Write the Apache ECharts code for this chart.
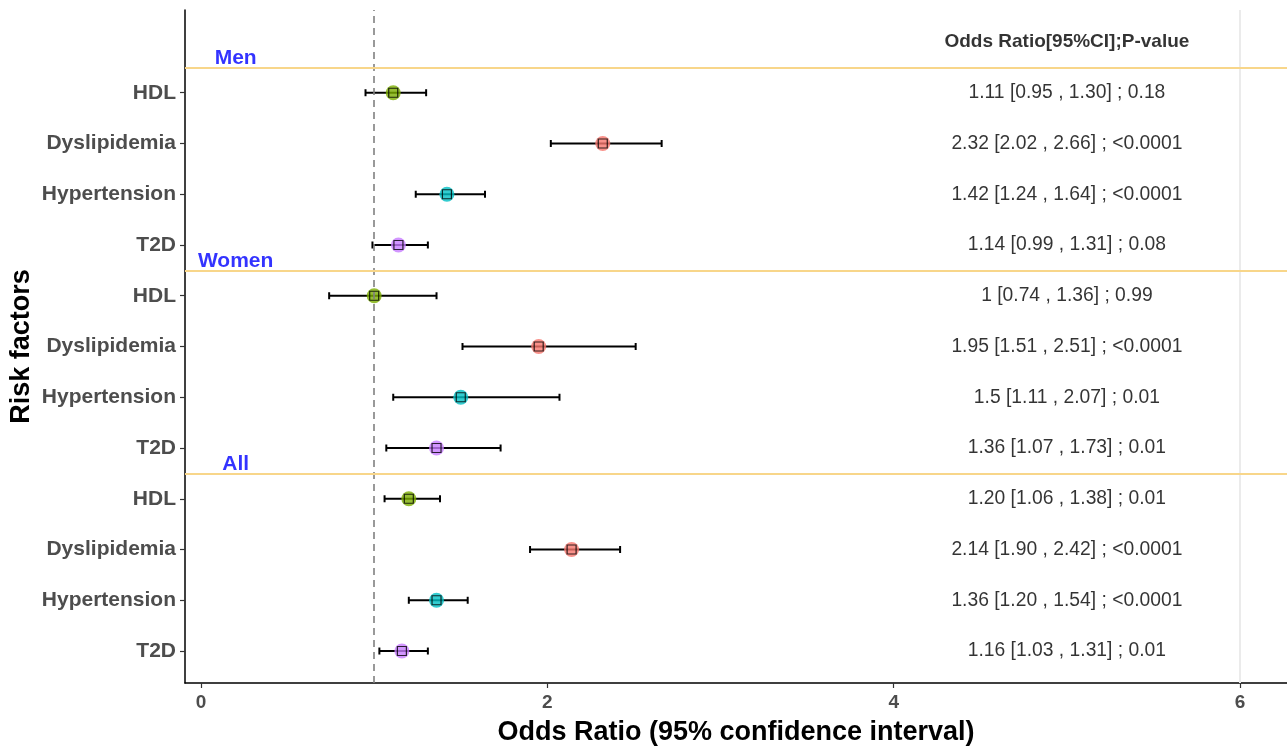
<!DOCTYPE html>
<html>
<head>
<meta charset="utf-8">
<script src="https://cdn.jsdelivr.net/npm/echarts@6/dist/echarts.min.js"></script>
<style>html,body{margin:0;padding:0;background:#fff}#c{width:1287px;height:747px}</style>
</head>
<body>
<div id="c"></div>
<script>
// ---- data ----
var groups = ['Men', 'Women', 'All'];
var factors = ['HDL', 'Dyslipidemia', 'Hypertension', 'T2D'];
var menOR = [1.11, 2.32, 1.42, 1.14];
var menLo = [0.95, 2.02, 1.24, 0.99];
var menHi = [1.30, 2.66, 1.64, 1.31];
var menTxt = ['1.11 [0.95 , 1.30] ; 0.18', '2.32 [2.02 , 2.66] ; <0.0001', '1.42 [1.24 , 1.64] ; <0.0001', '1.14 [0.99 , 1.31] ; 0.08'];
var womenOR = [1, 1.95, 1.5, 1.36];
var womenLo = [0.74, 1.51, 1.11, 1.07];
var womenHi = [1.36, 2.51, 2.07, 1.73];
var womenTxt = ['1 [0.74 , 1.36] ; 0.99', '1.95 [1.51 , 2.51] ; <0.0001', '1.5 [1.11 , 2.07] ; 0.01', '1.36 [1.07 , 1.73] ; 0.01'];
var allOR = [1.20, 2.14, 1.36, 1.16];
var allLo = [1.06, 1.90, 1.20, 1.03];
var allHi = [1.38, 2.42, 1.54, 1.31];
var allTxt = ['1.20 [1.06 , 1.38] ; 0.01', '2.14 [1.90 , 2.42] ; <0.0001', '1.36 [1.20 , 1.54] ; <0.0001', '1.16 [1.03 , 1.31] ; 0.01'];
var headerText = 'Odds Ratio[95%CI];P-value';
var xTicks = [0, 2, 4, 6];
var refLine = 1;

var colors = {'HDL': '#7CAE00', 'Dyslipidemia': '#F8766D', 'Hypertension': '#00BFC4', 'T2D': '#C77CFF'};

// build rows (top to bottom); positions 12..1, header at 13
var ORs = [menOR, womenOR, allOR], LOs = [menLo, womenLo, allLo], HIs = [menHi, womenHi, allHi], TXs = [menTxt, womenTxt, allTxt];
var rows = [];
var pos = 12;
for (var g = 0; g < 3; g++) {
  for (var f = 0; f < 4; f++) {
    rows.push({pos: pos, name: factors[f], or: ORs[g][f], lo: LOs[g][f], hi: HIs[g][f], txt: TXs[g][f]});
    pos--;
  }
}
var labelByPos = {};
rows.forEach(function (r) { labelByPos[r.pos] = r.name; });
var sepPos = [12.5, 8.5, 4.5];

var chart = echarts.init(document.getElementById('c'));
chart.setOption({
  animation: false,
  grid: {left: 185, right: 0, top: 10, bottom: 64, containLabel: false, outerBoundsMode: 'none'},
  xAxis: {
    type: 'value', min: -0.0924, max: 6.271,
    name: 'Odds Ratio (95% confidence interval)', nameLocation: 'middle', nameGap: 36,
    nameTextStyle: {fontFamily: 'Liberation Sans', fontWeight: 'bold', fontSize: 27, color: '#000'},
    axisLine: {show: true, onZero: false, lineStyle: {color: '#000', width: 1.5}},
    axisTick: {show: true, length: 5, lineStyle: {color: '#333', width: 1.2}, customValues: xTicks},
    axisLabel: {customValues: xTicks, color: '#4d4d4d', fontFamily: 'Liberation Sans', fontWeight: 'bold', fontSize: 19, margin: 10},
    splitLine: {show: false}
  },
  yAxis: {
    type: 'value', min: 0.37, max: 13.63,
    name: 'Risk factors', nameLocation: 'middle', nameGap: 150, nameRotate: 90, nameMoveOverlap: false,
    nameTextStyle: {fontFamily: 'Liberation Sans', fontWeight: 'bold', fontSize: 27, color: '#000'},
    axisLine: {show: true, onZero: false, lineStyle: {color: '#000', width: 1.5}},
    axisTick: {show: true, length: 5, lineStyle: {color: '#333', width: 1.2}, customValues: rows.map(function (r) { return r.pos; })},
    axisLabel: {customValues: rows.map(function (r) { return r.pos; }), formatter: function (v) { return labelByPos[Math.round(v)] || ''; },
      color: '#4d4d4d', fontFamily: 'Liberation Sans', fontWeight: 'bold', fontSize: 21, margin: 9},
    splitLine: {show: false}
  },
  series: [
    {
      type: 'custom',
      data: rows.map(function (r) { return [r.lo, r.hi, r.pos]; }),
      renderItem: function (params, api) {
        var a = api.coord([api.value(0), api.value(2)]);
        var b = api.coord([api.value(1), api.value(2)]);
        var h = 3.5;
        var st = {stroke: '#000', lineWidth: 2};
        return {type: 'group', children: [
          {type: 'line', shape: {x1: a[0], y1: a[1], x2: b[0], y2: b[1]}, style: st},
          {type: 'line', shape: {x1: a[0], y1: a[1] - h, x2: a[0], y2: a[1] + h}, style: st},
          {type: 'line', shape: {x1: b[0], y1: b[1] - h, x2: b[0], y2: b[1] + h}, style: st}
        ]};
      },
      markLine: {
        silent: true, symbol: 'none', label: {show: false},
        data: [
          {xAxis: refLine, lineStyle: {color: '#808080', type: [7, 5], width: 1.6}},
          {xAxis: 6, lineStyle: {color: '#ebebeb', type: 'solid', width: 2}}
        ].concat(sepPos.map(function (p) { return {yAxis: p, lineStyle: {color: '#f8d68a', type: 'solid', width: 2}}; }))
      },
      z: 2
    },
    {
      type: 'scatter', symbol: 'circle', symbolSize: 15,
      data: rows.map(function (r) { return {value: [r.or, r.pos], itemStyle: {color: colors[r.name], opacity: 0.8}}; }),
      z: 3
    },
    {
      type: 'scatter', symbol: 'rect', symbolSize: 9,
      itemStyle: {color: 'rgba(0,0,0,0)', borderColor: '#000', borderWidth: 1.2},
      data: rows.map(function (r) { return [r.or, r.pos]; }),
      z: 4
    },
    {
      type: 'scatter', symbolSize: 0, silent: true,
      data: rows.map(function (r) { return {value: [5, r.pos], name: r.txt}; }).concat([
        {value: [5, 13], name: headerText, label: {fontWeight: 'bold', fontSize: 19}}
      ]),
      label: {show: true, position: 'inside', formatter: '{b}', color: '#000', fontFamily: 'Liberation Sans', fontSize: 19.3},
      z: 5
    },
    {
      type: 'scatter', symbolSize: 0, silent: true,
      data: groups.map(function (g, i) { return {value: [0.2, sepPos[i]], name: g}; }),
      label: {show: true, position: 'top', distance: -1, formatter: '{b}', color: '#0000FF', fontFamily: 'Liberation Sans', fontWeight: 'bold', fontSize: 21},
      z: 5
    }
  ]
});
</script>
</body>
</html>
